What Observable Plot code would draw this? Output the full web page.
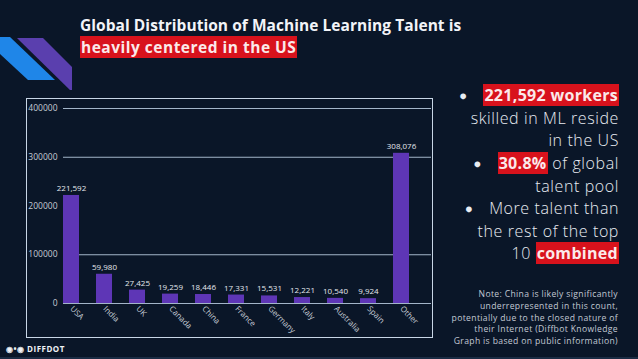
<!DOCTYPE html>
<html>
<head>
<meta charset="utf-8">
<script src="https://cdn.jsdelivr.net/npm/d3@7"></script>
<script src="https://cdn.jsdelivr.net/npm/@observablehq/plot@0.6"></script>
<style>
  html, body { margin: 0; padding: 0; }
  body { width: 638px; height: 359px; background: #0a1628; position: relative; overflow: hidden; font-family: "Open Sans", Lato, sans-serif; }
  .title { position: absolute; left: 80px; top: 14px; color: #f2f4f8; font-weight: 700; font-size: 15.5px; line-height: 22px; white-space: nowrap; letter-spacing: 0.05px; }
  .title .hl { letter-spacing: 0.5px; }
  .hl { background: #d8121c; color: #fbe9ea; padding: 0 1px; }
  .side { position: absolute; right: 19px; top: 84px; width: 200px; text-align: right; color: #e8ecf2; font-size: 16px; line-height: 22.2px; font-weight: 300; white-space: nowrap; letter-spacing: 0.6px; }
  .side b { font-weight: 700; letter-spacing: 0.3px; }
  .bul { margin-right: 16px; font-size: 12px; vertical-align: 1px; }
  .note { position: absolute; right: 20px; top: 289px; text-align: right; color: #c2c9d4; font-size: 8.6px; line-height: 11.8px; white-space: nowrap; letter-spacing: 0.35px; }
  .chart { position: absolute; left: 26px; top: 98px; border: 1.3px solid #c8d6e6; line-height: 0; }
  .logo { position: absolute; left: 6px; top: 343px; color: #f0f2f6; font-weight: 700; font-size: 8px; letter-spacing: 0.5px; }
  .stripe { position: absolute; left: 0; bottom: 0; width: 638px; height: 2px; background: #1b2c44; }
</style>
</head>
<body>
<svg width="100" height="90" style="position:absolute;left:0;top:0">
  <polygon points="0,37 10,37 55,80 28,80 0,54" fill="#1f86e8"/>
  <polygon points="17,38 43,38 72,67 72,92 20,41" fill="#5a3fae"/>
</svg>
<div class="title">Global Distribution of Machine Learning Talent is<br><span class="hl">heavily centered in the US</span></div>
<div class="side">
  <div><span class="bul">●</span><b class="hl">221,592 workers</b></div>
  <div>skilled in ML reside</div>
  <div>in the US</div>
  <div><span class="bul">●</span><b class="hl">30.8%</b> of global</div>
  <div>talent pool</div>
  <div><span class="bul">●</span>More talent than</div>
  <div>the rest of the top</div>
  <div>10 <b class="hl">combined</b></div>
</div>
<div class="note">Note: China is likely significantly<br>underrepresented in this count,<br>potentially due to the closed nature of<br>their Internet (Diffbot Knowledge<br>Graph is based on public information)</div>
<div class="chart" id="chart"></div>
<div class="logo">&#9673;&#8226;&#9673; DIFFDOT</div>
<div class="stripe"></div>
<script>
const countries = ["USA", "India", "UK", "Canada", "China", "France", "Germany", "Italy", "Australia", "Spain", "Other"];
const workers = [221592, 59980, 27425, 19259, 18446, 17331, 15531, 12221, 10540, 9924, 308076];
const yTicks = [0, 100000, 200000, 300000, 400000];
const gridLines = [0, 100000, 300000, 400000];

const data = countries.map((c, i) => ({country: c, value: workers[i]}));

const plot = Plot.plot({
  width: 405,
  height: 238,
  marginLeft: 36,
  marginRight: 1,
  marginTop: 9,
  marginBottom: 34,
  style: {background: "transparent", fontFamily: "'Open Sans', Lato, sans-serif", color: "#c6ccd6"},
  x: {domain: countries, paddingInner: 0.52, paddingOuter: 0.25, align: 0, label: null},
  y: {domain: [0, 400000], label: null},
  marks: [
    Plot.ruleY(gridLines, {stroke: "#b4c6da", strokeWidth: 1.2, strokeOpacity: 0.9}),
    Plot.barY(data, {x: "country", y: "value", fill: "#5e36b6"}),
    Plot.text(data, {x: "country", y: "value", text: d => d3.format(",")(d.value), dy: -7, fill: "#e4e8ee", fontSize: 8}),
    Plot.axisY({ticks: yTicks, tickFormat: d => String(d), tickSize: 0, tickPadding: 6, fontSize: 8.5, fill: "#c6ccd6"}),
    Plot.axisX({tickRotate: 45, textAnchor: "start", tickSize: 0, tickPadding: 4, fontSize: 8, fill: "#c6ccd6"})
  ]
});
document.getElementById("chart").appendChild(plot);
</script>
</body>
</html>
